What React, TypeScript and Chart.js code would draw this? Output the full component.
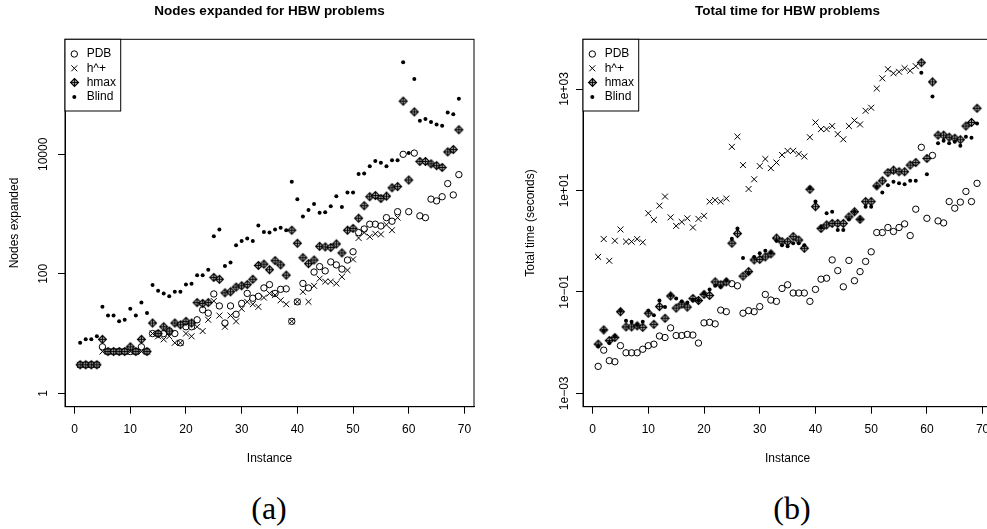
import React, { useEffect, useRef } from "react";
import { Chart, registerables } from "chart.js";

Chart.register(...registerables);

// ---------------- data ----------------
const INSTANCES = [
  1, 2, 3, 4, 5, 6, 7, 8, 9, 10, 11, 12, 13, 14, 15, 16, 17, 18, 19, 20, 21, 22, 23,
  24, 25, 26, 27, 28, 29, 30, 31, 32, 33, 34, 35, 36, 37, 38, 39, 40, 41, 42, 43, 44,
  45, 46, 47, 48, 49, 50, 51, 52, 53, 54, 55, 56, 57, 58, 59, 60, 61, 62, 63, 64, 65,
  66, 67, 68, 69,
];

const SERIES_NAMES = ["PDB", "h^+", "hmax", "Blind"];

// (a) nodes expanded
const PDB_NODES = [
  3, 3, 3, 3, 6, 5, 5, 5, 5, 5, 5, 6, 5, 10, 10, 10, 11, 10, 7, 13, 13, 17, 25, 22, 46,
  29, 15, 29, 21, 32, 47, 39, 42, 58, 66, 47, 55, 56, 16, 34, 69, 58, 107, 132, 112,
  158, 141, 120, 170, 234, 490, 562, 676, 676, 631, 871, 759, 1096, 10000, 1096, 10471,
  933, 871, 1778, 1660, 1950, 3236, 2089, 4571,
];
const HPLUS_NODES = [
  3, 3, 3, 3, 5, 5, 5, 5, 5, 5, 5, 5, 5, 10, 9, 8, 9, 7, 7, 10, 9, 13, 11, 17, 35, 20,
  13, 20, 16, 26, 34, 31, 28, 40, 47, 44, 36, 31, 16, 34, 50, 34, 63, 83, 74, 74, 69,
  89, 115, 174, 398, 490, 417, 468, 457, 661, 537, 871,
];
const HMAX_NODES = [
  3, 3, 3, 3, 8, 5, 5, 5, 5, 6, 5, 8, 5, 15, 10, 13, 11, 15, 14, 16, 15, 33, 32, 33, 87,
  81, 48, 50, 60, 63, 66, 81, 138, 145, 117, 166, 141, 95, 537, 324, 186, 148, 170, 288,
  282, 275, 316, 224, 537, 575, 851, 1380, 1950, 2042, 1820, 1995, 2754, 2884, 77625,
  3715, 51286, 7586, 7586, 6918, 6457, 6026, 10965, 12023, 25704,
];
const BLIND_NODES = [
  7, 8, 8, 9, 28, 20, 20, 16, 17, 26, 20, 33, 22, 65, 52, 47, 42, 50, 50, 66, 68, 95, 95,
  117, 427, 550, 135, 155, 302, 355, 389, 355, 646, 501, 490, 550, 589, 537, 3467, 1778,
  912, 1175, 1479, 1047, 1072, 1349, 1995, 1318, 2291, 2291, 4677, 4786, 6310, 7762,
  7244, 6310, 7943, 7943, 346737, 10471, 181970, 36308, 38905, 34674, 31623, 30200,
  50119, 46774, 85114,
];

// (b) total time (seconds)
const PDB_TIME = [
  0.0034, 0.0071, 0.0044, 0.0042, 0.0087, 0.0063, 0.0063, 0.0063, 0.0074, 0.0087,
  0.0093, 0.0135, 0.0126, 0.0195, 0.0138, 0.0138, 0.0145, 0.0141, 0.0098, 0.0245,
  0.0251, 0.0234, 0.0437, 0.0407, 0.145, 0.132, 0.038, 0.0427, 0.0407, 0.0513, 0.089,
  0.069, 0.065, 0.117, 0.138, 0.095, 0.095, 0.095, 0.065, 0.112, 0.178, 0.186, 0.427,
  0.263, 0.126, 0.417, 0.166, 0.251, 0.398, 0.617, 1.48, 1.48, 1.86, 1.55, 1.86, 2.19,
  1.29, 4.27, 70.8, 2.82, 49.0, 2.51, 2.29, 6.03, 4.47, 5.89, 9.55, 6.03, 13.8,
];
const HPLUS_TIME = [
  0.49, 1.1, 0.41, 1.02, 1.7, 0.98, 0.98, 1.1, 0.95, 3.55, 2.63, 5.01, 7.59, 2.95, 2.0,
  2.4, 2.82, 1.86, 2.75, 3.16, 6.03, 6.46, 6.03, 6.92, 72.4, 115, 31.6, 10.7, 16.6, 30.2,
  41.7, 27.5, 35.5, 50.1, 60.3, 60.3, 52.5, 46.8, 112, 219, 162, 162, 186, 129, 102, 186,
  240, 200, 372, 427, 1023, 1622, 2455, 2042, 2188, 2570, 2291, 2818,
];
const HMAX_TIME = [
  0.00933, 0.0178, 0.011, 0.0126, 0.0407, 0.0204, 0.0204, 0.0214, 0.02, 0.038, 0.0229,
  0.0513, 0.0302, 0.0832, 0.0479, 0.0575, 0.0501, 0.0741, 0.0676, 0.0891, 0.0851, 0.158,
  0.138, 0.158, 0.912, 1.41, 0.204, 0.251, 0.427, 0.437, 0.49, 0.562, 1.15, 0.977, 0.977,
  1.23, 1.05, 0.724, 10.5, 4.79, 1.78, 2.09, 2.24, 2.24, 2.24, 3.02, 3.8, 2.69, 6.03,
  6.03, 12.3, 15.5, 22.4, 25.1, 23.4, 23.4, 31.6, 35.5, 3311, 42.7, 1380, 123, 123, 112,
  107, 100, 186, 219, 417,
];
const BLIND_TIME = [
  0.00851, 0.0174, 0.00977, 0.0132, 0.0427, 0.0269, 0.0257, 0.0224, 0.0257, 0.0427,
  0.0347, 0.0676, 0.0501, 0.0871, 0.0741, 0.0646, 0.0617, 0.0692, 0.0676, 0.0933, 0.112,
  0.132, 0.126, 0.17, 1.12, 1.78, 0.468, 0.234, 0.49, 0.575, 0.646, 0.589, 1.02, 0.832,
  0.794, 0.912, 0.912, 0.832, 11.2, 6.03, 1.86, 3.55, 3.8, 1.66, 1.66, 2.69, 3.8, 2.69,
  4.79, 4.79, 11.7, 9.12, 12.6, 14.8, 13.8, 13.2, 15.5, 15.5, 2089, 20.9, 708, 85.1,
  95.5, 85.1, 91.2, 75.9, 115, 110, 209,
];

const X_TICKS = [0, 10, 20, 30, 40, 50, 60, 70];
const NODES_TICKS = [1, 100, 10000];
const NODES_TICK_LABELS = ["1", "100", "10000"];
const TIME_TICKS = [0.001, 0.1, 10, 1000];
const TIME_TICK_LABELS = ["1e\u221203", "1e\u221201", "1e+01", "1e+03"];

const X_MIN = -1.72;
const X_MAX = 71.72;
const NODES_MIN = 0.597;
const NODES_MAX = 841000;
const TIME_MIN = 0.000545;
const TIME_MAX = 9550;

// ---------------- drawing helpers ----------------
const FONT = "'Liberation Sans', Arial, Helvetica, sans-serif";

function makeDiamondPlus(r: number): HTMLCanvasElement {
  const size = 11;
  const c = document.createElement("canvas");
  c.width = size;
  c.height = size;
  const g = c.getContext("2d") as CanvasRenderingContext2D;
  const m = size / 2;
  g.beginPath();
  g.moveTo(m, m - r);
  g.lineTo(m + r, m);
  g.lineTo(m, m + r);
  g.lineTo(m - r, m);
  g.closePath();
  g.fillStyle = "#a8a8a8";
  g.fill();
  g.strokeStyle = "#000";
  g.lineWidth = 1.1;
  g.stroke();
  g.beginPath();
  g.moveTo(m, m - r);
  g.lineTo(m, m + r);
  g.moveTo(m - r, m);
  g.lineTo(m + r, m);
  g.lineWidth = 0.9;
  g.stroke();
  return c;
}

function drawSymbol(ctx: CanvasRenderingContext2D, kind: number, x: number, y: number, img: HTMLCanvasElement) {
  ctx.save();
  ctx.strokeStyle = "#000";
  ctx.fillStyle = "#000";
  ctx.lineWidth = 1;
  if (kind === 0) {
    ctx.beginPath();
    ctx.arc(x, y, 3.2, 0, Math.PI * 2);
    ctx.stroke();
  } else if (kind === 1) {
    const d = 4.2 * Math.SQRT1_2;
    ctx.beginPath();
    ctx.moveTo(x - d, y - d);
    ctx.lineTo(x + d, y + d);
    ctx.moveTo(x - d, y + d);
    ctx.lineTo(x + d, y - d);
    ctx.stroke();
  } else if (kind === 2) {
    ctx.drawImage(img, Math.round(x - img.width / 2), Math.round(y - img.height / 2));
  } else {
    ctx.beginPath();
    ctx.arc(x, y, 2, 0, Math.PI * 2);
    ctx.fill();
  }
  ctx.restore();
}

function buildChart(
  canvas: HTMLCanvasElement,
  cfg: {
    title: string;
    yTitle: string;
    series: number[][];
    yMin: number;
    yMax: number;
    yTicks: number[];
    yLabels: string[];
    yAxisWidth: number;
    yTickPadding: number;
    yTitlePad: number;
    padRight: number;
  }
) {
  const img = makeDiamondPlus(4);
  const toPts = (arr: number[]) => arr.map((v, i) => ({ x: INSTANCES[i], y: v }));
  const [pdb, hplus, hmax, blind] = cfg.series;

  const boxPlugin = {
    id: "rBox",
    afterDatasetsDraw(chart: any) {
      const { ctx, chartArea } = chart;
      ctx.save();
      ctx.strokeStyle = "#000";
      ctx.lineWidth = 1;
      ctx.strokeRect(chartArea.left, chartArea.top, chartArea.right - chartArea.left, chartArea.bottom - chartArea.top);
      ctx.restore();
    },
  };
  const legendPlugin = {
    id: "rLegend",
    afterDraw(chart: any) {
      const { ctx, chartArea } = chart;
      const x0 = chartArea.left;
      const y0 = chartArea.top;
      ctx.save();
      ctx.fillStyle = "#fff";
      ctx.fillRect(x0, y0, 55.7, 71.7);
      ctx.strokeStyle = "#000";
      ctx.lineWidth = 1;
      ctx.strokeRect(x0, y0, 55.7, 71.7);
      ctx.font = "12px " + FONT;
      ctx.fillStyle = "#000";
      ctx.textBaseline = "middle";
      ctx.textAlign = "left";
      SERIES_NAMES.forEach((name, i) => {
        const y = y0 + 14.7 + i * 14.3;
        drawSymbol(ctx, i, x0 + 9.3, y, img);
        ctx.fillStyle = "#000";
        ctx.fillText(name, x0 + 21.7, y);
      });
      ctx.restore();
    },
  };

  return new Chart(canvas, {
    type: "scatter",
    data: {
      datasets: [
        {
          label: SERIES_NAMES[3],
          data: toPts(blind),
          pointStyle: "circle",
          pointRadius: 2,
          pointBackgroundColor: "#000",
          pointBorderColor: "#000",
          pointBorderWidth: 0,
        },
        {
          label: SERIES_NAMES[2],
          data: toPts(hmax),
          pointStyle: img as any,
          pointRadius: 4,
        },
        {
          label: SERIES_NAMES[1],
          data: toPts(hplus),
          pointStyle: "crossRot",
          pointRadius: 4.2,
          pointBorderColor: "#000",
          pointBorderWidth: 1,
        },
        {
          label: SERIES_NAMES[0],
          data: toPts(pdb),
          pointStyle: "circle",
          pointRadius: 3.2,
          pointBackgroundColor: "rgba(0,0,0,0)",
          pointBorderColor: "#000",
          pointBorderWidth: 1,
        },
      ],
    },
    options: {
      animation: false,
      responsive: false,
      devicePixelRatio: 1,
      layout: { padding: { left: 0, right: cfg.padRight, top: 0, bottom: 0 } },
      plugins: {
        legend: { display: false },
        tooltip: { enabled: false },
        title: {
          display: true,
          text: cfg.title,
          fullSize: false,
          color: "#000",
          font: { family: FONT, size: 13.5, weight: "bold" },
          padding: { top: 3, bottom: 20.1 },
        },
      },
      scales: {
        x: {
          type: "linear",
          min: X_MIN,
          max: X_MAX,
          afterBuildTicks: (s: any) => {
            s.ticks = X_TICKS.map((v) => ({ value: v }));
          },
          afterFit: (s: any) => {
            s.height = 63.3;
            s.paddingLeft = 0;
            s.paddingRight = 0;
          },
          ticks: {
            color: "#000",
            font: { family: FONT, size: 12 },
            padding: 9,
            autoSkip: false,
            maxRotation: 0,
            minRotation: 0,
          },
          grid: { display: true, drawOnChartArea: false, drawTicks: true, tickLength: 7, color: "#000", lineWidth: 1 },
          border: { display: true, color: "#000", width: 1 },
          title: {
            display: true,
            text: "Instance",
            color: "#000",
            font: { family: FONT, size: 12 },
            padding: { top: 0, bottom: 3.8 },
          },
        },
        y: {
          type: "logarithmic",
          min: cfg.yMin,
          max: cfg.yMax,
          afterBuildTicks: (s: any) => {
            s.ticks = cfg.yTicks.map((v) => ({ value: v }));
          },
          afterFit: (s: any) => {
            s.width = cfg.yAxisWidth;
            s.paddingTop = 0;
            s.paddingBottom = 0;
          },
          ticks: {
            color: "#000",
            font: { family: FONT, size: 12 },
            padding: cfg.yTickPadding,
            autoSkip: false,
            minRotation: 90,
            maxRotation: 90,
            crossAlign: "center",
            callback: (value: any) => {
              const idx = cfg.yTicks.findIndex((t) => Math.abs(Math.log10(t) - Math.log10(Number(value))) < 1e-6);
              return idx >= 0 ? cfg.yLabels[idx] : "";
            },
          },
          grid: { display: true, drawOnChartArea: false, drawTicks: true, tickLength: 7, color: "#000", lineWidth: 1 },
          border: { display: true, color: "#000", width: 1 },
          title: {
            display: true,
            text: cfg.yTitle,
            color: "#000",
            font: { family: FONT, size: 12 },
            padding: { top: cfg.yTitlePad, bottom: 0 },
          },
        },
      },
    } as any,
    plugins: [boxPlugin, legendPlugin],
  });
}

export default function App() {
  const leftRef = useRef<HTMLCanvasElement>(null);
  const rightRef = useRef<HTMLCanvasElement>(null);

  useEffect(() => {
    document.body.style.margin = "0";
    const a = buildChart(leftRef.current as HTMLCanvasElement, {
      title: "Nodes expanded for HBW problems",
      yTitle: "Nodes expanded",
      series: [PDB_NODES, HPLUS_NODES, HMAX_NODES, BLIND_NODES],
      yMin: NODES_MIN,
      yMax: NODES_MAX,
      yTicks: NODES_TICKS,
      yLabels: NODES_TICK_LABELS,
      yAxisWidth: 65,
      yTickPadding: -2,
      yTitlePad: 7.8,
      padRight: 19,
    });
    const b = buildChart(rightRef.current as HTMLCanvasElement, {
      title: "Total time for HBW problems",
      yTitle: "Total time (seconds)",
      series: [PDB_TIME, HPLUS_TIME, HMAX_TIME, BLIND_TIME],
      yMin: TIME_MIN,
      yMax: TIME_MAX,
      yTicks: TIME_TICKS,
      yLabels: TIME_TICK_LABELS,
      yAxisWidth: 89,
      yTickPadding: -5.5,
      yTitlePad: 29.8,
      padRight: 21.8,
    });
    return () => {
      a.destroy();
      b.destroy();
    };
  }, []);

  const caption: React.CSSProperties = {
    position: "absolute",
    width: 100,
    textAlign: "center",
    top: 489,
    height: 38,
    lineHeight: "38px",
    fontFamily: "'Liberation Serif', 'DejaVu Serif', serif",
    fontSize: 32,
    color: "#000",
  };

  return (
    <div
      style={{
        position: "fixed",
        left: 0,
        top: 0,
        width: 987,
        height: 529,
        overflow: "hidden",
        background: "#fff",
      }}
    >
      <canvas
        ref={leftRef}
        width={493}
        height={470}
        style={{ position: "absolute", left: 0, top: 0, width: 493, height: 470 }}
      />
      <canvas
        ref={rightRef}
        width={520}
        height={470}
        style={{ position: "absolute", left: 494, top: 0, width: 520, height: 470 }}
      />
      <div style={{ ...caption, left: 219 }}>(a)</div>
      <div style={{ ...caption, left: 742 }}>(b)</div>
    </div>
  );
}
